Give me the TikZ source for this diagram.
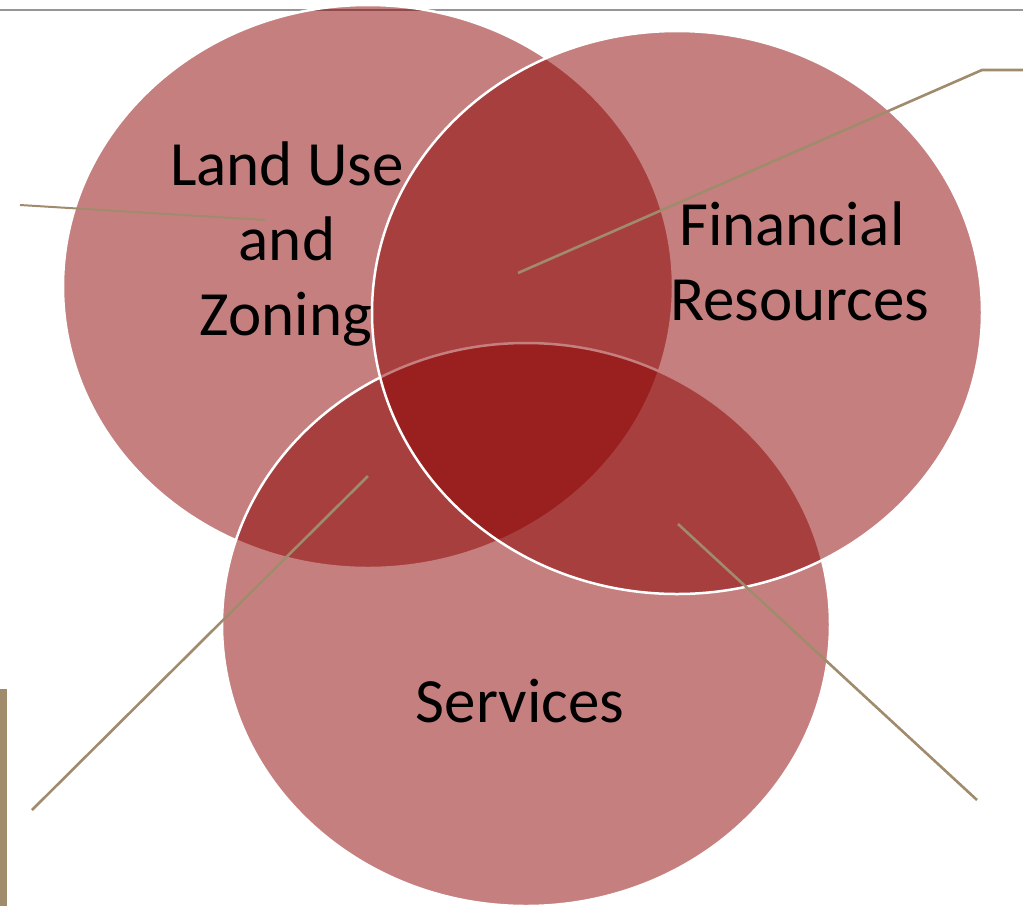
\documentclass[tikz,border=0pt]{standalone}
\usepackage{fontspec}
\setmainfont{Carlito}
\usetikzlibrary{shapes.geometric}
\definecolor{vennred}{RGB}{140,0,0}
\definecolor{tan}{RGB}{160,139,108}
\definecolor{rule}{RGB}{150,150,150}
\tikzset{
  venn/.style={ellipse, fill=vennred, fill opacity=0.5, draw=white, draw opacity=1, line width=2.5pt, inner sep=0pt, outer sep=0pt},
  callout/.style={draw=tan, line width=2.6pt},
  label/.style={font=\fontsize{63}{75}\selectfont, anchor=base, inner sep=0pt, text=black}
}
\begin{document}
\begin{tikzpicture}[x=1pt,y=-1pt]
\useasboundingbox (0,0) rectangle (1023,906);
% top rule and side bar
\coordinate (r1) at (0,10);
\coordinate (r2) at (1023,10);
\draw[rule, line width=2.5pt] (r1) -- (r2);
\fill[tan] (0,689) rectangle (6.5,906);
% circles
\node[venn, minimum width=610, minimum height=563] (land) at (368,286.5) {};
\node[venn, minimum width=608, minimum height=563] (serv) at (526,624.5) {};
\node[venn, minimum width=610, minimum height=563] (fin) at (677,312.5) {};
% callout lines
\coordinate (a1) at (20,205);
\coordinate (a2) at (265,220);
\coordinate (b1) at (1023,70);
\coordinate (b2) at (982,70);
\coordinate (b3) at (518,273);
\coordinate (c1) at (32,810);
\coordinate (c2) at (368,476);
\coordinate (d1) at (678,524);
\coordinate (d2) at (977,800);
\draw[callout, line width=2pt] (a1) -- (a2);
\draw[callout] (b1) -- (b2) -- (b3);
\draw[callout] (c1) -- (c2);
\draw[callout] (d1) -- (d2);
% labels
\node[label] (t1) at (287,185) {Land Use};
\node[label] (t2) at (287,260) {and};
\node[label] (t3) at (286,335) {Zoning};
\node[label] (t4) at (792,245) {Financial};
\node[label] (t5) at (800,320) {Resources};
\node[label] (t6) at (520,722) {Services};
\end{tikzpicture}
\end{document}
